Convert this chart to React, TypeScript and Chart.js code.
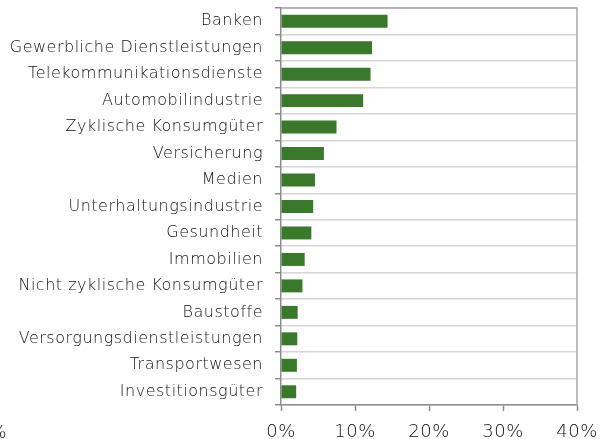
import React, { useEffect, useRef } from "react";
import { Chart, registerables } from "chart.js";

Chart.register(...registerables);

const categories = [
  "Banken",
  "Gewerbliche Dienstleistungen",
  "Telekommunikationsdienste",
  "Automobilindustrie",
  "Zyklische Konsumgüter",
  "Versicherung",
  "Medien",
  "Unterhaltungsindustrie",
  "Gesundheit",
  "Immobilien",
  "Nicht zyklische Konsumgüter",
  "Baustoffe",
  "Versorgungsdienstleistungen",
  "Transportwesen",
  "Investitionsgüter",
];

const values = [14.4, 12.3, 12.1, 11.1, 7.5, 5.8, 4.6, 4.35, 4.1, 3.2, 2.9, 2.25, 2.2, 2.15, 2.05];

const xTicks = [0, 10, 20, 30, 40];

const FONT = "'DejaVu Sans', sans-serif";

const borderPlugin = {
  id: "frameBorder",
  beforeDraw(chart: any) {
    const ctx = chart.ctx;
    (ctx as any).letterSpacing = "0.5px";
  },
  afterDraw(chart: any) {
    const { ctx, chartArea } = chart;
    ctx.save();
    ctx.strokeStyle = "#a6a6a6";
    ctx.lineWidth = 1.5;
    ctx.beginPath();
    ctx.moveTo(chartArea.left, chartArea.top);
    ctx.lineTo(chartArea.right, chartArea.top);
    ctx.lineTo(chartArea.right, chartArea.bottom);
    ctx.stroke();
    ctx.restore();
  },
};

export default function App() {
  const ref = useRef<HTMLCanvasElement>(null);
  useEffect(() => {
    if (!ref.current) return;
    const chart = new Chart(ref.current, {
      type: "bar",
      data: {
        labels: categories,
        datasets: [
          {
            data: values,
            backgroundColor: "#3a782b",
            borderWidth: 0,
            barPercentage: 0.49,
            categoryPercentage: 1,
          },
        ],
      },
      options: {
        indexAxis: "y",
        animation: false,
        responsive: false,
        maintainAspectRatio: false,
        layout: { padding: { top: 8, right: 25, left: 0, bottom: 0 } },
        plugins: { legend: { display: false }, tooltip: { enabled: false } },
        scales: {
          x: {
            min: 0,
            max: 40,
            afterBuildTicks: (scale: any) => {
              scale.ticks = xTicks.map((v) => ({ value: v }));
            },
            afterFit: (scale: any) => {
              scale.height = 34;
              scale.paddingLeft = 0;
              scale.paddingRight = 0;
            },
            grid: {
              drawOnChartArea: false,
              drawTicks: true,
              tickLength: 6,
              tickColor: "#8c8c8c",
              tickWidth: 1.5,
            },
            border: { color: "#8c8c8c", width: 1.5 },
            ticks: {
              padding: 11,
              color: "#111111",
              font: { family: FONT, size: 18, weight: 200 },
              maxRotation: 0,
              callback: (v: any) => v + "%",
            },
          },
          y: {
            afterFit: (scale: any) => {
              scale.width = 281;
              scale.paddingTop = 0;
              scale.paddingBottom = 0;
            },
            grid: {
              offset: true,
              color: "#d6d6d6",
              lineWidth: 1.5,
              tickLength: 6,
              tickColor: "#8c8c8c",
              tickWidth: 1.5,
            },
            border: { color: "#8c8c8c", width: 1.5 },
            ticks: {
              padding: 12,
              color: "#111111",
              font: { family: FONT, size: 16, weight: 200 },
              autoSkip: false,
            },
          },
        },
      },
      plugins: [borderPlugin],
    });
    return () => chart.destroy();
  }, []);
  return (
    <div style={{ position: "fixed", left: 0, top: 0, width: 602, height: 439, overflow: "hidden", background: "#fff" }}>
      <canvas ref={ref} width={602} height={439} style={{ display: "block" }} />
      <span
        style={{
          position: "absolute",
          right: 595,
          top: 421,
          fontFamily: FONT,
          fontWeight: 200,
          fontSize: 18,
          letterSpacing: "0.5px",
          color: "#111111",
          whiteSpace: "nowrap",
        }}
      >
        0%
      </span>
    </div>
  );
}
